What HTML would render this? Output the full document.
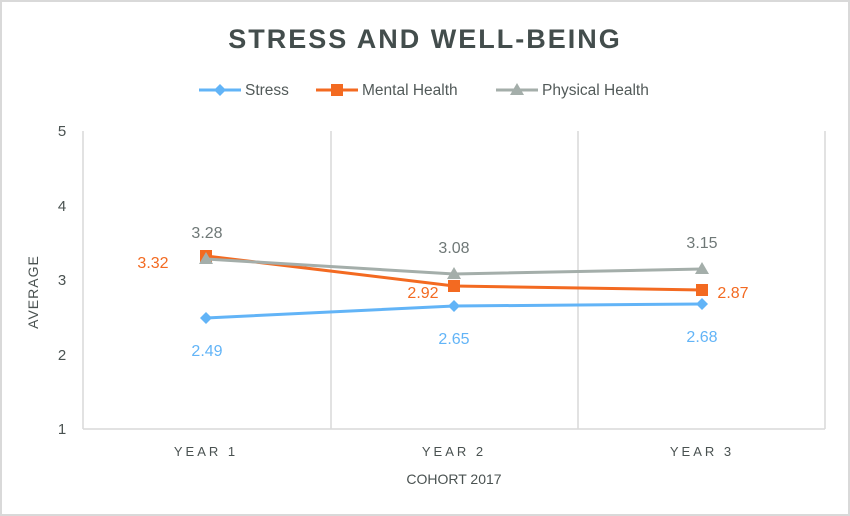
<!DOCTYPE html>
<html><head><meta charset="utf-8"><style>
body{margin:0;background:#fff}
svg{display:block;font-family:"Liberation Sans",sans-serif}
</style></head><body>
<svg width="850" height="516" viewBox="0 0 850 516">
<rect x="1" y="1" width="848" height="514" fill="#fff" stroke="#d9d9d9" stroke-width="2"/>
<text x="425" y="48" text-anchor="middle" font-size="27" font-weight="bold" fill="#434d4c" letter-spacing="2">STRESS AND WELL-BEING</text>
<g font-size="15.5" fill="#525a59">
<line x1="199" y1="90" x2="241" y2="90" stroke="#62b4f7" stroke-width="3"/>
<polygon points="220,84 226,90 220,96 214,90" fill="#62b4f7"/>
<text x="245" y="95">Stress</text>
<line x1="316" y1="90" x2="358" y2="90" stroke="#f36a21" stroke-width="3"/>
<rect x="331" y="84" width="12" height="12" fill="#f36a21"/>
<text x="362" y="95">Mental Health</text>
<line x1="496" y1="90" x2="538" y2="90" stroke="#a4aeaa" stroke-width="3"/>
<polygon points="517,83 524,95 510,95" fill="#a4aeaa"/>
<text x="542" y="95">Physical Health</text>
</g>
<g stroke="#d9d9d9" stroke-width="1.5">
<line x1="83" y1="131" x2="83" y2="429"/>
<line x1="331" y1="131" x2="331" y2="429"/>
<line x1="578" y1="131" x2="578" y2="429"/>
<line x1="825" y1="131" x2="825" y2="429"/>
<line x1="83" y1="429" x2="825" y2="429"/>
</g>
<g font-size="15" fill="#4a5251" text-anchor="middle">
<text x="62" y="136">5</text><text x="62" y="211">4</text><text x="62" y="285">3</text><text x="62" y="360">2</text><text x="62" y="434">1</text>
<text x="206" y="456" font-size="13" letter-spacing="3">YEAR 1</text>
<text x="454" y="456" font-size="13" letter-spacing="3">YEAR 2</text>
<text x="702" y="456" font-size="13" letter-spacing="3">YEAR 3</text>
<text x="454" y="484" font-size="14">COHORT 2017</text>
<text transform="translate(38,292) rotate(-90)" font-size="14" letter-spacing="1">AVERAGE</text>
</g>
<polyline points="206,318 454,306 702,304" fill="none" stroke="#62b4f7" stroke-width="3"/>
<g fill="#62b4f7"><polygon points="206,312 212,318 206,324 200,318"/><polygon points="454,300 460,306 454,312 448,306"/><polygon points="702,298 708,304 702,310 696,304"/></g>
<polyline points="206,256 454,286 702,290" fill="none" stroke="#f36a21" stroke-width="3"/>
<g fill="#f36a21"><rect x="200" y="250" width="12" height="12"/><rect x="448" y="280" width="12" height="12"/><rect x="696" y="284" width="12" height="12"/></g>
<polyline points="206,259 454,274 702,269" fill="none" stroke="#a4aeaa" stroke-width="3"/>
<g fill="#a4aeaa"><polygon points="206,252 213,264 199,264"/><polygon points="454,267 461,279 447,279"/><polygon points="702,262 709,274 695,274"/></g>
<g font-size="16" text-anchor="middle">
<text x="207" y="356" fill="#62b4f7">2.49</text><text x="454" y="344" fill="#62b4f7">2.65</text><text x="702" y="342" fill="#62b4f7">2.68</text>
<text x="153" y="268" fill="#f36a21">3.32</text><text x="423" y="298" fill="#f36a21">2.92</text><text x="733" y="298" fill="#f36a21">2.87</text>
<text x="207" y="238" fill="#6f7877">3.28</text><text x="454" y="253" fill="#6f7877">3.08</text><text x="702" y="248" fill="#6f7877">3.15</text>
</g>
</svg>
</body></html>
